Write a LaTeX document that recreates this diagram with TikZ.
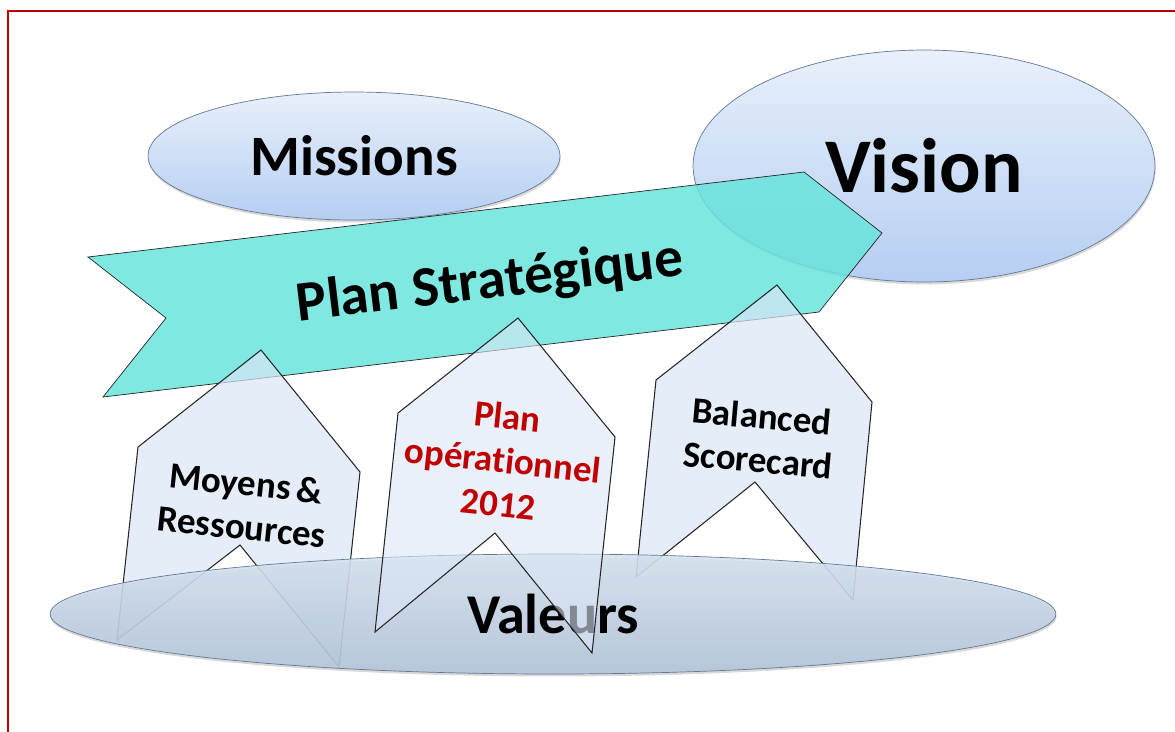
\documentclass[tikz,border=0pt]{standalone}
\usepackage{fontspec}
\setmainfont{Carlito}[Ligatures=NoCommon]
\usepackage{xcolor}
\usetikzlibrary{positioning}
\usetikzlibrary{shapes.geometric}
\usetikzlibrary{shadows}
\definecolor{framered}{RGB}{192,0,0}
\definecolor{bubbleline}{RGB}{100,120,150}
\definecolor{bubbletop}{RGB}{232,240,251}
\definecolor{bubblebottom}{RGB}{182,206,242}
\definecolor{basetop}{RGB}{214,226,240}
\definecolor{basebottom}{RGB}{178,196,218}
\definecolor{bannerfill}{RGB}{105,228,220}
\definecolor{pillarfill}{RGB}{218,230,246}
\definecolor{opred}{RGB}{192,0,0}
\tikzstyle{frame}=[draw=framered, line width=1.6pt]
\tikzstyle{bubble}=[ellipse, draw=bubbleline, top color=bubbletop, bottom color=bubblebottom, inner sep=0pt, drop shadow={shadow xshift=0.4pt, shadow yshift=-1.4pt, opacity=0.3}]
\tikzstyle{base}=[top color=basetop, bottom color=basebottom, fill opacity=0.88, text opacity=1]
\tikzstyle{banner}=[draw=black!85, fill=bannerfill, fill opacity=0.85, line join=miter]
\tikzstyle{pillar}=[draw=black!85, line width=0.6pt, fill=pillarfill, fill opacity=0.7, line join=miter]
\tikzstyle{tag}=[align=center, font=\bfseries\fontsize{21}{25}\selectfont]

\begin{document}
\begin{tikzpicture}[x=0.02cm, y=-0.02cm]
  \useasboundingbox (0,0) rectangle (1175,731);
  \clip (0,0) rectangle (1175,731);
  \draw[frame] (8,11) rectangle (1200,760);

  % top ellipses
  \node[bubble, minimum width=8.24cm, minimum height=2.56cm, font=\bfseries\fontsize{32.5}{36}\selectfont] (missions) at (354,156) {Missions};
  \node[bubble, minimum width=9.24cm, minimum height=4.64cm, font=\bfseries\fontsize{44}{48}\selectfont] (vision) at (924,166) {Vision};

  % the strategic plan banner
  \draw[banner] (88,257) -- (804,172) -- (882,233) -- (819,312) -- (103,397) -- (166,318) -- cycle;
  \node[rotate=6.8, font=\bfseries\fontsize{32.5}{36}\selectfont] (strategie) at (490,283) {Plan Stratégique};

  % pillars behind the base
  \draw[pillar] (261,350) -- (360,472) -- (339,667) -- (240,545) -- (117,640) -- (138,447) -- cycle;
  \draw[pillar] (777,285) -- (872,402) -- (853,600) -- (755,482) -- (636,577) -- (656,380) -- cycle;
  \node[tag, rotate=-6] (moyens) at (244,505) {Moyens\,\&\\Ressources};
  \node[tag, rotate=-5] (balanced) at (760,438) {Balanced\\Scorecard};

  % base
  \node[bubble, base, minimum width=20.12cm, minimum height=2.4cm, font=\bfseries\fontsize{32}{36}\selectfont] (valeurs) at (553,614) {Valeurs};

  % pillar in front of the base
  \draw[pillar, fill opacity=0.6] (518,318) -- (615,437) -- (592,653) -- (495,533) -- (375,632) -- (398,413) -- cycle;
  \node[tag, rotate=-6, text=opred] (operationnel) at (503,460) {Plan\\opérationnel\\2012};
\end{tikzpicture}
\end{document}
